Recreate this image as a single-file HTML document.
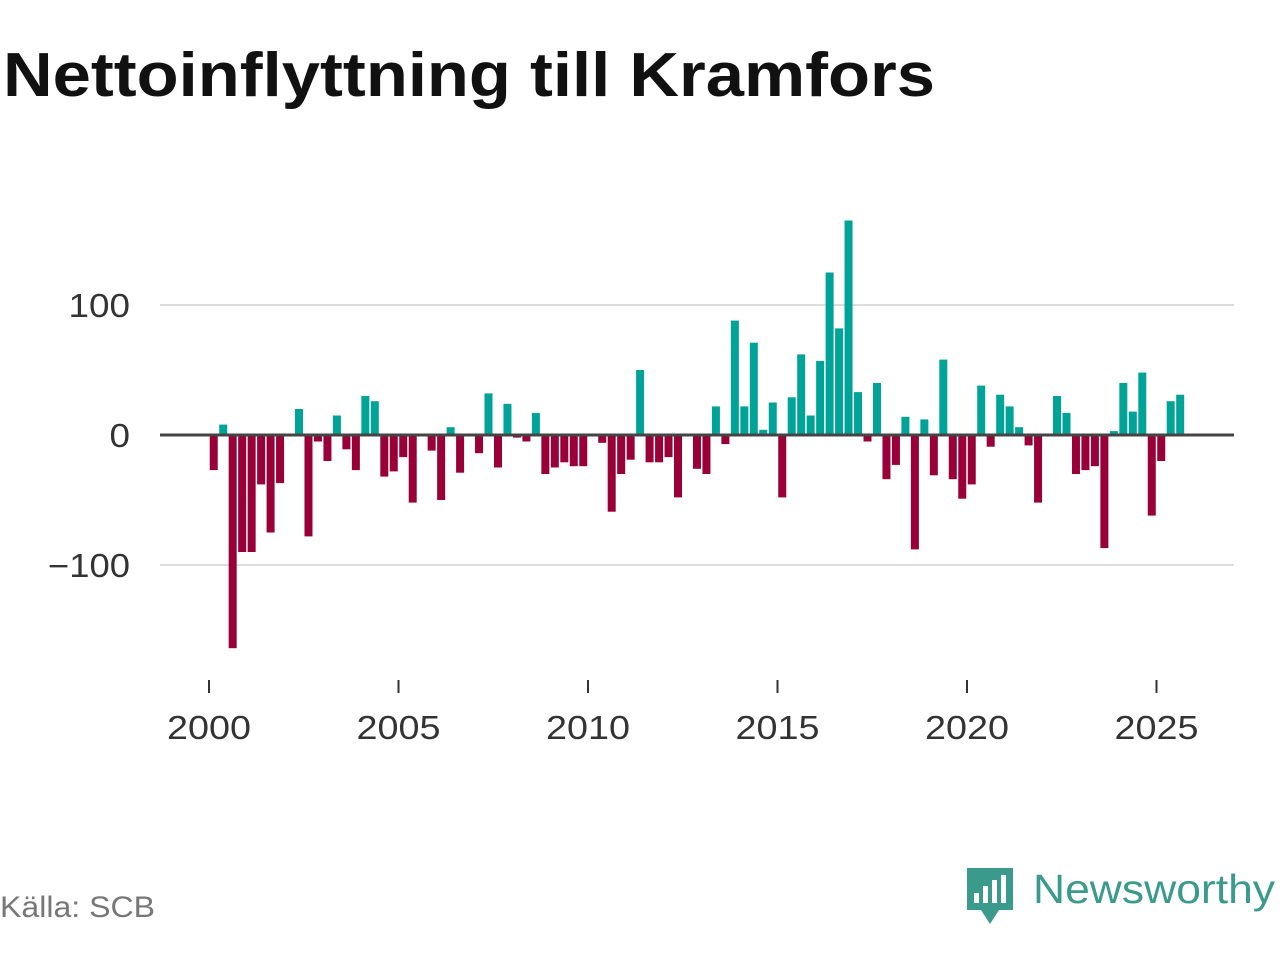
<!DOCTYPE html>
<html><head><meta charset="utf-8"><style>
body{margin:0;background:#fff;width:1280px;height:960px;overflow:hidden;font-family:"Liberation Sans",sans-serif}
</style></head><body>
<svg width="1280" height="960">
<text x="3" y="96" font-size="62" font-weight="bold" fill="#111" textLength="932" lengthAdjust="spacingAndGlyphs">Nettoinflyttning till Kramfors</text>
<g id="grid"></g><g id="bars"></g><g id="axes"></g>
<text x="0" y="917" font-size="30" fill="#777" textLength="155" lengthAdjust="spacingAndGlyphs">Källa: SCB</text>
<g>
<path d="M967 868 h46 v42 h-14 l-9 14 l-9 -14 h-14 z" fill="#3a9a8c"/>
<rect x="974" y="893" width="5" height="10" fill="#fff"/><rect x="983" y="886" width="5" height="17" fill="#fff"/><rect x="992" y="880" width="5" height="23" fill="#fff"/><rect x="1001" y="875" width="5" height="28" fill="#fff"/>
<text x="1033" y="903" font-size="41" fill="#3a9a8c" textLength="242" lengthAdjust="spacingAndGlyphs">Newsworthy</text>
</g>
</svg>
<script>
const startYear = 2000;
const values = [-27,8,-164,-90,-90,-38,-75,-37,0,20,-78,-5,-20,15,-11,-27,30,26,-32,-28,-17,-52,0,-12,-50,6,-29,-1,-14,32,-25,24,-2,-5,17,-30,-25,-21,-24,-24,0,-6,-59,-30,-19,50,-21,-21,-17,-48,0,-26,-30,22,-7,88,22,71,4,25,-48,29,62,15,57,125,82,165,33,-5,40,-34,-23,14,-88,12,-31,58,-34,-49,-38,38,-9,31,22,6,-8,-52,-1,30,17,-30,-27,-24,-87,3,40,18,48,-62,-20,26,31];
const yTicks = [-100,0,100];
const xTicks = [2000,2005,2010,2015,2020,2025];
const ns="http://www.w3.org/2000/svg";
const X = yr => 209 + (yr-2000)*37.9;
const Y = v => 435 - v*1.3;
function mk(tag,attrs,parent){const e=document.createElementNS(ns,tag);for(const k in attrs)e.setAttribute(k,attrs[k]);document.getElementById(parent).appendChild(e);return e;}
yTicks.forEach(t=>{
  if(t!==0){const g=mk('line',{x1:160,x2:1234,y1:Y(t),y2:Y(t),stroke:'#dcdcdc','stroke-width':2},'grid');
  
  }
  const s=(t<0?'\u2212':'')+Math.abs(t);
  const l=mk('text',{x:130,y:Y(t)+12,'text-anchor':'end','font-size':33,fill:'#333',textLength:s.length*20.5,lengthAdjust:'spacingAndGlyphs'},'axes');
  l.textContent=s;
  
  
});
values.forEach((v,i)=>{
  const cx=X(startYear+i/4+0.125);
  const r=mk('rect',{x:cx-4,y:Math.min(Y(v),Y(0)),width:8,height:Math.abs(Y(v)-Y(0)),fill:v>=0?'#00a398':'#990038'},'bars');
  
  
});
const z=mk('line',{x1:160,x2:1234,y1:Y(0),y2:Y(0),stroke:'#444','stroke-width':3},'axes');


xTicks.forEach(t=>{
  const tk=mk('line',{x1:X(t),x2:X(t),y1:680,y2:693,stroke:'#333','stroke-width':2},'axes');
  
  
  const l=mk('text',{x:X(t),y:739,'text-anchor':'middle','font-size':33,fill:'#333',textLength:84,lengthAdjust:'spacingAndGlyphs'},'axes');
  l.textContent=t;
  
  
});
</script>
</body></html>
